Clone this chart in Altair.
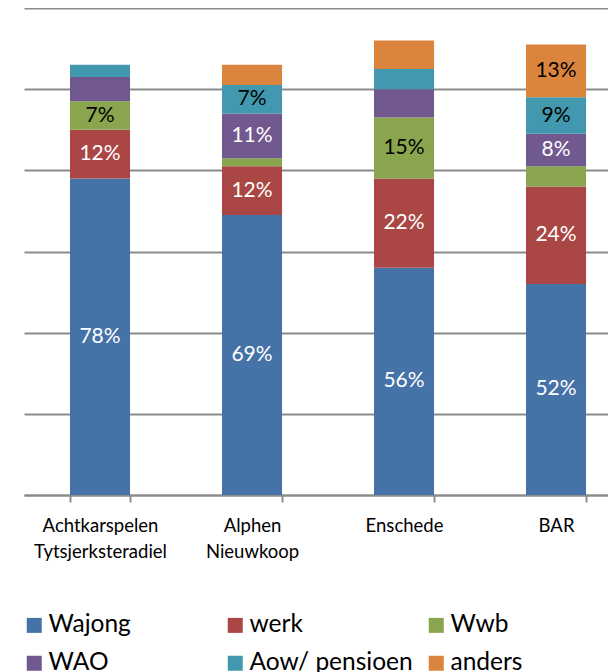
import altair as alt
import pandas as pd

categories = ["Achtkarspelen|Tytsjerksteradiel", "Alphen|Nieuwkoop", "Enschede", "BAR"]
series = ["Wajong", "werk", "Wwb", "WAO", "Aow/ pensioen", "anders"]
colors = ["#4572A7", "#AA4643", "#89A54E", "#71588F", "#4198AF", "#DB843D"]

wajong = [78, 69, 56, 52]
werk = [12, 12, 22, 24]
wwb = [7, 2, 15, 5]
wao = [6, 11, 7, 8]
aow = [3, 7, 5, 9]
anders = [0, 5, 7, 13]

# which segments carry a data label in the original
show_wajong = [1, 1, 1, 1]
show_werk = [1, 1, 1, 1]
show_wwb = [1, 0, 1, 0]
show_wao = [0, 1, 0, 1]
show_aow = [0, 1, 0, 1]
show_anders = [0, 0, 0, 1]

values = [wajong, werk, wwb, wao, aow, anders]
shows = [show_wajong, show_werk, show_wwb, show_wao, show_aow, show_anders]

rows = []
for si, (s, vals, sh) in enumerate(zip(series, values, shows)):
    for ci, c in enumerate(categories):
        rows.append({"cat": c, "series": s, "ord": si, "value": vals[ci],
                     "show": sh[ci], "label": f"{vals[ci]}%"})
df = pd.DataFrame(rows)

FONT = "Lato"

x_enc = alt.X(
    "cat:N", sort=categories, title=None,
    scale=alt.Scale(paddingInner=0.605, paddingOuter=0.2235, align=0.677),
    axis=alt.Axis(labelAngle=0, labelExpr="split(datum.label, '|')",
                  labelFontSize=18.5, labelFont=FONT, labelColor="#000000",
                  labelLineHeight=26, labelPadding=14, labelBaseline="top",
                  tickBand="extent", tickSize=7, tickColor="#8c8c8c", tickWidth=2,
                  domainColor="#8c8c8c", domainWidth=2, grid=False),
)

bars = alt.Chart(df).mark_bar().encode(
    x=x_enc,
    y=alt.Y("value:Q", stack="zero", title=None,
            scale=alt.Scale(domain=[0, 120], nice=False),
            axis=alt.Axis(values=[0, 20, 40, 60, 80, 100, 120], labels=False, ticks=False,
                          domain=False, grid=True, gridColor="#8c8c8c", gridWidth=2)),
    color=alt.Color("series:N", sort=series,
                    scale=alt.Scale(domain=series, range=colors),
                    legend=alt.Legend(title=None, orient="none", legendX=-2, legendY=605,
                                      direction="horizontal", columns=3, gridAlign="all",
                                      symbolType="square", symbolSize=225, symbolStrokeWidth=0,
                                      symbolOpacity=1, labelFontSize=24.5, labelFont=FONT,
                                      labelColor="#000000", columnPadding=11, rowPadding=13,
                                      symbolOffset=0, labelOffset=2, padding=0, labelLimit=300)),
    order=alt.Order("ord:Q", sort="ascending"),
)

texts = alt.Chart(df).transform_stack(
    stack="value", groupby=["cat"], as_=["y0", "y1"],
    sort=[alt.SortField("ord", order="ascending")],
).transform_calculate(
    mid="(datum.y0 + datum.y1) / 2"
).transform_filter("datum.show == 1").mark_text(
    fontSize=21, font=FONT, baseline="middle", align="center"
).encode(
    x=alt.X("cat:N", sort=categories),
    y=alt.Y("mid:Q"),
    text="label:N",
    color=alt.condition("indexof(['Wwb', 'Aow/ pensioen', 'anders'], datum.series) >= 0",
                        alt.value("#000000"), alt.value("#ffffff")),
)

chart = alt.layer(bars, texts).properties(
    width=584, height=487,
    autosize=alt.AutoSizeParams(type="none"),
    padding={"left": 16, "top": 0, "right": 0, "bottom": 177},
).configure_view(stroke=None)

chart.save("out.html", embed_options={"renderer": "svg", "actions": False})
